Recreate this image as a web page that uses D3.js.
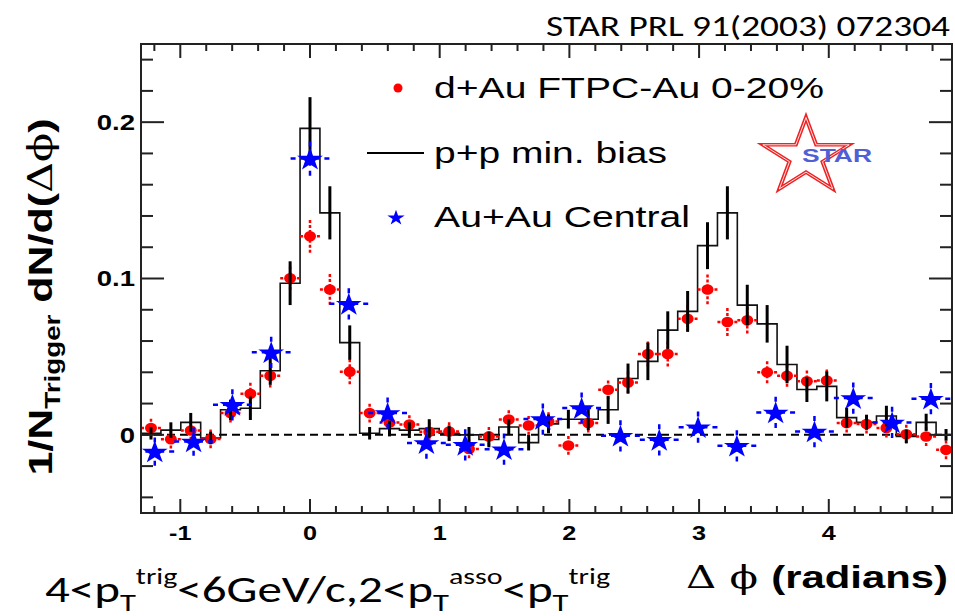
<!DOCTYPE html>
<html><head><meta charset="utf-8">
<script src="https://cdn.jsdelivr.net/npm/d3@7"></script>
<style>
html,body{margin:0;padding:0;background:#fff;}
svg{display:block;}
</style></head>
<body>
<svg id="chart" width="955" height="616"></svg>
<script>
// ---------------- DATA ----------------
// fine binning (41 bins over 2π): bin centres in radians
const dphiFine = [-1.2260,-1.0727,-0.9195,-0.7662,-0.6130,-0.4597,-0.3065,-0.1532,0,0.1532,0.3065,0.4597,0.6130,0.7662,0.9195,1.0727,1.2260,1.3792,1.5325,1.6857,1.8390,1.9922,2.1455,2.2987,2.4520,2.6052,2.7585,2.9117,3.0650,3.2182,3.3715,3.5247,3.6780,3.8312,3.9845,4.1377,4.2910,4.4442,4.5975,4.7507,4.9040];
const binHalfWidth = 0.0766;
// p+p min. bias (histogram)
const ppValues = [0.001,0.003,0.008,-0.002,0.016,0.017,0.041,0.097,0.196,0.142,0.059,0.001,0.004,0.003,0.004,0.001,0.000,-0.003,0.005,-0.005,0.007,0.010,0.010,0.016,0.036,0.047,0.067,0.079,0.121,0.142,0.083,0.071,0.045,0.029,0.031,0.011,0.008,0.012,-0.001,0.008,0.000];
const ppErrors = [0.004,0.005,0.006,0.004,0.0065,0.0075,0.009,0.014,0.020,0.017,0.011,0.004,0.005,0.005,0.006,0.005,0.005,0.005,0.005,0.005,0.006,0.006,0.007,0.009,0.0096,0.012,0.012,0.013,0.015,0.017,0.013,0.012,0.012,0.008,0.0096,0.0064,0.0048,0.0066,0.0043,0.0055,0.0037];
// d+Au FTPC-Au 0-20%
const dAuValues = [0.0043,-0.0028,0.0028,-0.0026,0.0139,0.0263,0.0378,0.1002,0.127,0.093,0.0404,0.0139,0.0079,0.0066,0.002,0.0021,-0.009,-0.001,0.0098,0.006,0.0085,-0.0068,0.0075,0.0288,0.0335,0.0517,0.0517,0.0742,0.093,0.0722,0.0733,0.040,0.0378,0.0342,0.0348,0.0075,0.0069,0.0043,0.0004,-0.0011,-0.0096];
const dAuErrors = [0.006,0.006,0.006,0.006,0.006,0.007,0.0075,0.0075,0.0105,0.0098,0.008,0.006,0.006,0.006,0.006,0.006,0.006,0.006,0.006,0.006,0.006,0.006,0.006,0.006,0.007,0.008,0.008,0.0085,0.0095,0.009,0.0085,0.007,0.007,0.007,0.007,0.006,0.006,0.006,0.006,0.006,0.006];
// Au+Au central (21 bins over 2π)
const dphiCoarse = [-1.1968,-0.8976,-0.5984,-0.2992,0,0.2992,0.5984,0.8976,1.1968,1.4960,1.7952,2.0944,2.3936,2.6928,2.9920,3.2912,3.5904,3.8896,4.1888,4.4880,4.7872];
const coarseHalfWidth = 0.1496;
const auAuValues = [-0.0107,-0.0043,0.0192,0.0528,0.1767,0.0838,0.0139,-0.0053,-0.0064,-0.0092,0.0101,0.0171,-0.0006,-0.0032,0.0049,-0.007,0.0143,0.0021,0.0235,0.0079,0.0231];
const auAuErrors = [0.009,0.009,0.010,0.010,0.011,0.010,0.010,0.010,0.010,0.010,0.010,0.010,0.010,0.010,0.010,0.010,0.010,0.010,0.010,0.010,0.010];
// axes
const xMajorTicks = [-1,0,1,2,3,4];
const xTickLabels = ["-1","0","1","2","3","4"];
const yMajorTicks = [0,0.1,0.2];
const yTickLabels = ["0","0.1","0.2"];
const legendLabels = ["d+Au FTPC-Au 0-20%","p+p min. bias","Au+Au Central"];

// ---------------- LAYOUT ----------------
const svg = d3.select("#chart");
const L = 141, R = 952, T = 44, B = 513;
const x = d3.scaleLinear().domain([-1.303, 4.95]).range([L, R]);
const y = d3.scaleLinear().domain([-0.05, 0.25]).range([B, T]);
const helv = "'Liberation Sans', Arial, Helvetica, sans-serif";
const cal = "Carlito, 'Liberation Sans Narrow', 'Open Sans', sans-serif";

svg.append("clipPath").attr("id","frameclip")
  .append("rect").attr("x",L).attr("y",T).attr("width",R-L).attr("height",B-T);
const plot = svg.append("g").attr("clip-path","url(#frameclip)");

// zero dashed line
plot.append("line").attr("x1",L).attr("x2",R).attr("y1",y(0)).attr("y2",y(0))
  .attr("stroke","#000").attr("stroke-width",2).attr("stroke-dasharray","8,5");

// p+p histogram (step)
const fine = dphiFine.map((d,i)=>({x:d, v:ppValues[i], e:ppErrors[i], r:dAuValues[i], re:dAuErrors[i]}));
let pathD = "M" + x(dphiFine[0]-binHalfWidth) + "," + y(0);
fine.forEach(d=>{
  pathD += "L" + x(d.x-binHalfWidth) + "," + y(d.v) + "L" + x(d.x+binHalfWidth) + "," + y(d.v);
});
plot.append("path").attr("d",pathD).attr("fill","none").attr("stroke","#111").attr("stroke-width",1.6);

// d+Au red points with dashed error bars
const gRed = plot.append("g");
fine.forEach(d=>{
  const cx = x(d.x), cy = y(d.r);
  const ey = y(d.r - d.re) - cy;
  const ex = x(d.x + binHalfWidth) - cx;
  const segs = [[cx, cy-ey, cx, cy],[cx, cy+ey, cx, cy],[cx-ex, cy, cx, cy],[cx+ex, cy, cx, cy]];
  segs.forEach(s=>{
    gRed.append("line").attr("x1",s[0]).attr("y1",s[1]).attr("x2",s[2]).attr("y2",s[3])
      .attr("stroke","#ff0000").attr("stroke-width",2.5).attr("stroke-dasharray","3,2");
  });
  gRed.append("ellipse").attr("cx",cx).attr("cy",cy).attr("rx",6).attr("ry",5.3).attr("fill","#ff0000");
});

// p+p error bars (thick black)
plot.append("g").selectAll("line").data(fine).join("line")
  .attr("x1",d=>x(d.x)).attr("x2",d=>x(d.x))
  .attr("y1",d=>y(d.v-d.e)).attr("y2",d=>y(d.v+d.e))
  .attr("stroke","#000").attr("stroke-width",3);

// Au+Au blue stars with dashed error bars
const coarse = dphiCoarse.map((d,i)=>({x:d, v:auAuValues[i], e:auAuErrors[i]}));
const gBlue = plot.append("g");
const star = d3.symbol().type(d3.symbolStar).size(165);
coarse.forEach(d=>{
  const cx = x(d.x), cy = y(d.v);
  const ey = y(d.v - d.e) - cy;
  const ex = x(d.x + coarseHalfWidth) - cx;
  const segs = [[cx, cy-ey, cx, cy],[cx, cy+ey, cx, cy],[cx-ex, cy, cx, cy],[cx+ex, cy, cx, cy]];
  segs.forEach(s=>{
    gBlue.append("line").attr("x1",s[0]).attr("y1",s[1]).attr("x2",s[2]).attr("y2",s[3])
      .attr("stroke","#0000ff").attr("stroke-width",2.5).attr("stroke-dasharray","5,5");
  });
  gBlue.append("path").attr("d",star).attr("transform",`translate(${cx},${cy+1}) scale(1.12,1)`).attr("fill","#0000ff");
});

// ---------------- FRAME & TICKS ----------------
svg.append("rect").attr("x",L).attr("y",T).attr("width",R-L).attr("height",B-T)
  .attr("fill","none").attr("stroke","#222").attr("stroke-width",2);

const xMinor = d3.range(-12,50,2).map(v=>v/10).filter(v=>v>-1.303 && v<4.95 && !xMajorTicks.includes(v));
const tickG = svg.append("g").attr("stroke","#222").attr("stroke-width",2);
xMajorTicks.forEach(v=>{
  tickG.append("line").attr("x1",x(v)).attr("x2",x(v)).attr("y1",B).attr("y2",B-14);
  tickG.append("line").attr("x1",x(v)).attr("x2",x(v)).attr("y1",T).attr("y2",T+14);
});
xMinor.forEach(v=>{
  tickG.append("line").attr("x1",x(v)).attr("x2",x(v)).attr("y1",B).attr("y2",B-7);
  tickG.append("line").attr("x1",x(v)).attr("x2",x(v)).attr("y1",T).attr("y2",T+7);
});
const yMinor = d3.range(-4,26,2).map(v=>v/100).filter(v=>!yMajorTicks.some(m=>Math.abs(m-v)<1e-9));
yMajorTicks.forEach(v=>{
  tickG.append("line").attr("x1",L).attr("x2",L+23).attr("y1",y(v)).attr("y2",y(v));
  tickG.append("line").attr("x1",R).attr("x2",R-23).attr("y1",y(v)).attr("y2",y(v));
});
yMinor.forEach(v=>{
  tickG.append("line").attr("x1",L).attr("x2",L+12).attr("y1",y(v)).attr("y2",y(v));
  tickG.append("line").attr("x1",R).attr("x2",R-12).attr("y1",y(v)).attr("y2",y(v));
});

// tick labels
xMajorTicks.forEach((v,i)=>{
  svg.append("text").attr("x",x(v)).attr("y",540).attr("text-anchor","middle")
    .attr("font-family",helv).attr("font-weight","bold").attr("font-size",21)
    .attr("transform",`translate(${x(v)},0) scale(1.2,1) translate(${-x(v)},0)`)
    .text(xTickLabels[i]);
});
yMajorTicks.forEach((v,i)=>{
  svg.append("text").attr("x",135).attr("y",y(v)+8).attr("text-anchor","end")
    .attr("font-family",helv).attr("font-weight","bold").attr("font-size",22)
    .attr("transform",`translate(135,0) scale(1.25,1) translate(-135,0)`)
    .text(yTickLabels[i]);
});

// axis titles
const xt = svg.append("text").attr("x",948).attr("y",588).attr("text-anchor","end")
  .attr("font-size",31).attr("fill","#000");
xt.append("tspan").attr("font-family","'DejaVu Serif', serif").text("Δ ϕ ");
xt.append("tspan").attr("font-family",helv).attr("font-weight","bold").text("(radians)");
xt.attr("textLength",262).attr("lengthAdjust","spacingAndGlyphs");

const yt = svg.append("text").attr("transform","translate(52,297) rotate(-90)")
  .attr("text-anchor","middle").attr("font-family",helv).attr("font-weight","bold").attr("font-size",34)
  .attr("textLength",357).attr("lengthAdjust","spacingAndGlyphs");
yt.append("tspan").text("1/N");
yt.append("tspan").attr("font-size",22).attr("dy",8).text("Trigger");
yt.append("tspan").attr("dy",-8).text(" dN/d(");
yt.append("tspan").attr("font-weight","normal").attr("font-family","'DejaVu Serif', serif").text("Δϕ");
yt.append("tspan").text(")");

// ---------------- LEGEND ----------------
const legY = [88, 153, 217];
svg.append("circle").attr("cx",398).attr("cy",legY[0]).attr("r",4.5).attr("fill","#ff0000");
svg.append("line").attr("x1",367).attr("x2",424).attr("y1",legY[1]).attr("y2",legY[1]).attr("stroke","#000").attr("stroke-width",2);
svg.append("path").attr("d",d3.symbol().type(d3.symbolStar).size(75)).attr("transform",`translate(396,${legY[2]+1}) scale(1.12,1)`).attr("fill","#0000ff");
const legWidths = [390, 233, 256];
legendLabels.forEach((t,i)=>{
  svg.append("text").attr("x",434).attr("y",legY[i]+10).attr("font-family",helv).attr("font-size",29)
    .attr("textLength",legWidths[i]).attr("lengthAdjust","spacingAndGlyphs").text(t);
});

// STAR logo
const starBig = d3.symbol().type(d3.symbolStar).size(1750);
svg.append("path").attr("d",starBig).attr("transform","translate(806,157) scale(1.15,1)")
  .attr("fill","none").attr("stroke","#ee2222").attr("stroke-width",3.5).attr("stroke-linejoin","miter");
svg.append("path").attr("d",starBig).attr("transform","translate(806,157) scale(1.15,1)")
  .attr("fill","none").attr("stroke","#fff").attr("stroke-width",0.8);
svg.append("text").attr("x",837).attr("y",162).attr("text-anchor","middle").attr("font-family",helv)
  .attr("font-weight","bold").attr("font-size",18).attr("fill","#4f5fd6").attr("textLength",70)
  .attr("lengthAdjust","spacingAndGlyphs").text("STAR");

// ---------------- ANNOTATIONS ----------------
svg.append("text").attr("x",950).attr("y",36).attr("text-anchor","end").attr("font-family",cal)
  .attr("font-size",28).attr("textLength",404).attr("lengthAdjust","spacingAndGlyphs")
  .text("STAR PRL 91(2003) 072304");

const bt = svg.append("text").attr("x",45).attr("y",602).attr("font-family",cal).attr("font-size",36);
bt.append("tspan").text("4<p");
bt.append("tspan").attr("font-size",24).attr("dy",9).text("T");
bt.append("tspan").attr("font-size",22).attr("dy",-27).text("trig");
bt.append("tspan").attr("dy",18).text("<6GeV/c,2<p");
bt.append("tspan").attr("font-size",24).attr("dy",9).text("T");
bt.append("tspan").attr("font-size",22).attr("dy",-27).text("asso");
bt.append("tspan").attr("dy",18).text("<p");
bt.append("tspan").attr("font-size",24).attr("dy",9).text("T");
bt.append("tspan").attr("font-size",22).attr("dy",-27).text("trig");
bt.attr("textLength",565).attr("lengthAdjust","spacingAndGlyphs");
</script>
</body></html>
